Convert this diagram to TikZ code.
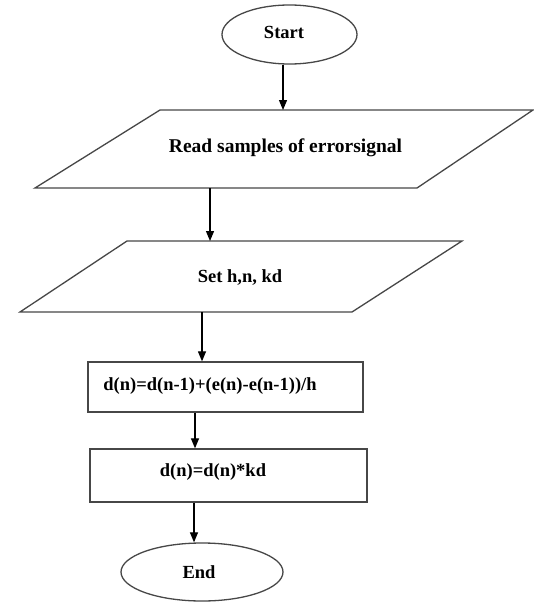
\documentclass[tikz,border=0pt]{standalone}
\usepackage{fontspec}
\setmainfont{Liberation Serif}
\usetikzlibrary{arrows.meta,shapes.geometric}
\begin{document}
\begin{tikzpicture}[x=1pt,y=-1pt,
  shapeline/.style={draw=black!72, line width=1.3pt},
  lbl/.style={font=\bfseries\fontsize{18.5}{20}\selectfont, anchor=base, inner sep=0pt},
  arr/.style={draw=black, line width=1.2pt, -{Triangle[length=10pt,width=8pt]}}]
\useasboundingbox[fill=white] (0,0) rectangle (534,602);
% Start
\node[ellipse, shapeline, minimum width=135pt, minimum height=59pt, inner sep=0pt] (start) at (289.5,34.5) {};
\node[lbl] (tstart) at (284,39) {Start};
% Parallelogram 1
\coordinate (p1tl) at (160,110);
\coordinate (p1tr) at (533,110);
\coordinate (p1br) at (417,188);
\coordinate (p1bl) at (35,188);
\draw[shapeline] (p1tl) -- (p1tr) -- (p1br) -- (p1bl) -- cycle;
\node[lbl, font=\bfseries\fontsize{19.5}{21}\selectfont] (tread) at (285.5,152) {Read samples of errorsignal};
% Parallelogram 2
\coordinate (p2tl) at (127,241);
\coordinate (p2tr) at (462,241);
\coordinate (p2br) at (352,312);
\coordinate (p2bl) at (20,312);
\draw[shapeline] (p2tl) -- (p2tr) -- (p2br) -- (p2bl) -- cycle;
\node[lbl] (tset) at (240,282) {Set h,n, kd};
% Rectangles
\node[rectangle, shapeline, minimum width=275pt, minimum height=50pt, inner sep=0pt] (r1) at (225.5,387) {};
\node[lbl] (tr1) at (210,390) {d(n)=d(n-1)+(e(n)-e(n-1))/h};
\node[rectangle, shapeline, minimum width=277pt, minimum height=53pt, inner sep=0pt] (r2) at (228.5,475.5) {};
\node[lbl] (tr2) at (213,476) {d(n)=d(n)*kd};
% End
\node[ellipse, shapeline, minimum width=162pt, minimum height=58pt, inner sep=0pt] (end) at (202,572) {};
\node[lbl] (tend) at (199,578) {End};
% connector x positions
\coordinate (c1) at (283,0);
\coordinate (c2) at (210,0);
\coordinate (c3) at (202,0);
\coordinate (c4) at (195,0);
\coordinate (c5) at (194,0);
\draw[arr] (start.south -| c1) -- (p1tl -| c1);
\draw[arr] (p1bl -| c2) -- (p2tl -| c2);
\draw[arr] (p2bl -| c3) -- (r1.north -| c3);
\draw[arr] (r1.south -| c4) -- (r2.north -| c4);
\draw[arr] (r2.south -| c5) -- (end.north -| c5);
\end{tikzpicture}
\end{document}
